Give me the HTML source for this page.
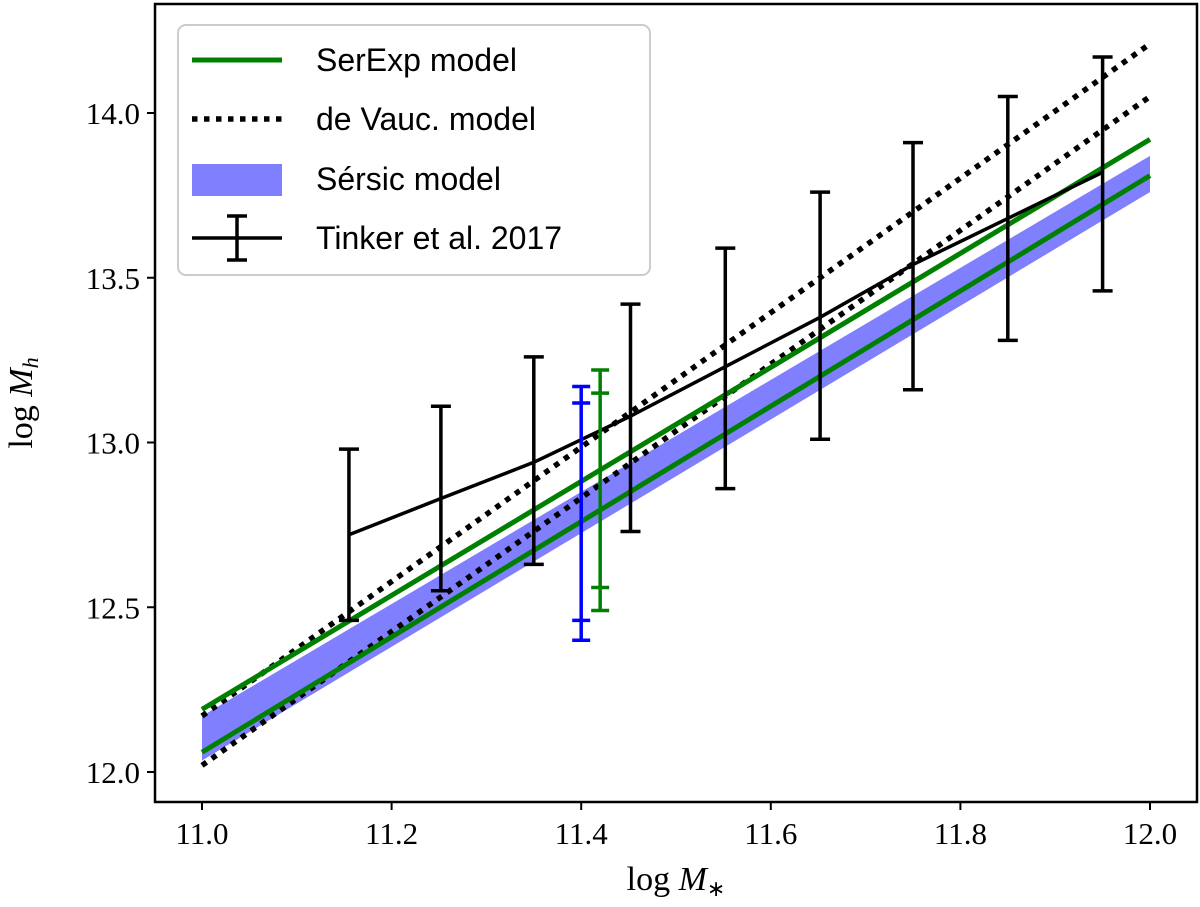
<!DOCTYPE html>
<html><head><meta charset="utf-8"><style>
body{margin:0;background:#fff}
svg{display:block}
.tk{font-family:"Liberation Serif",serif;font-size:31px;fill:#000}
.lg{font-family:"Liberation Sans",sans-serif;font-size:32px;fill:#000}
</style></head><body>
<svg id="chart" width="1200" height="907" viewBox="0 0 1200 907">
<g id="plot"></g>
</svg>
<script>
const xTicks=[11.0,11.2,11.4,11.6,11.8,12.0];
const yTicks=[12.0,12.5,13.0,13.5,14.0];
const serExpUpper=[12.19,13.92];
const serExpLower=[12.06,13.81];
const deVaucUpper=[12.17,14.21];
const deVaucLower=[12.02,14.05];
const sersicBandLow=[12.035,13.76];
const sersicBandHigh=[12.17,13.87];
const lineX=[11.0,12.0];
const tinkerX=[11.155,11.252,11.35,11.452,11.552,11.652,11.75,11.85,11.95];
const tinkerY=[12.72,12.83,12.94,13.08,13.23,13.38,13.54,13.68,13.82];
const tinkerLo=[12.46,12.55,12.63,12.73,12.86,13.01,13.16,13.31,13.46];
const tinkerHi=[12.98,13.11,13.26,13.42,13.59,13.76,13.91,14.05,14.17];
const blueBar={x:11.40,lo:12.40,hi:13.17,innerLo:12.46,innerHi:13.12};
const greenBar={x:11.42,lo:12.49,hi:13.22,innerLo:12.56,innerHi:13.15};

const X=v=>202+(v-11)*948;
const Y=v=>772-(v-12)*329.5;
const NS='http://www.w3.org/2000/svg';
const g=document.getElementById('plot');
function mk(t,a,txt){const e=document.createElementNS(NS,t);for(const k in a)e.setAttribute(k,a[k]);if(txt!==undefined)e.textContent=txt;g.appendChild(e);return e;}

let band=mk('polygon',{points:`${X(lineX[0])},${Y(sersicBandLow[0])} ${X(lineX[1])},${Y(sersicBandLow[1])} ${X(lineX[1])},${Y(sersicBandHigh[1])} ${X(lineX[0])},${Y(sersicBandHigh[0])}`,fill:'#8080ff'});



function line(arr,opts,name){const e=mk('line',Object.assign({x1:X(lineX[0]),y1:Y(arr[0]),x2:X(lineX[1]),y2:Y(arr[1])},opts));

}
line(deVaucUpper,{stroke:'#000','stroke-width':5.5,'stroke-dasharray':'5.5 6.5'},'de-vauc-upper-line');
line(deVaucLower,{stroke:'#000','stroke-width':5.5,'stroke-dasharray':'5.5 6.5'},'de-vauc-lower-line');
line(serExpUpper,{stroke:'#008000','stroke-width':5},'serexp-upper-line');
line(serExpLower,{stroke:'#008000','stroke-width':5},'serexp-lower-line');

let pl=mk('polyline',{points:tinkerX.map((x,i)=>X(x)+','+Y(tinkerY[i])).join(' '),fill:'none',stroke:'#000','stroke-width':3.5});


tinkerX.forEach((x,i)=>{const cx=X(x);
 const e=mk('path',{d:`M${cx},${Y(tinkerLo[i])}V${Y(tinkerHi[i])}M${cx-10},${Y(tinkerLo[i])}h20M${cx-10},${Y(tinkerHi[i])}h20`,stroke:'#000','stroke-width':3.5,fill:'none'});
 
 });
function bar(b,c,name){const cx=X(b.x);
 const e=mk('path',{d:`M${cx},${Y(b.lo)}V${Y(b.hi)}`+[b.lo,b.hi,b.innerLo,b.innerHi].map(v=>`M${cx-9},${Y(v)}h18`).join(''),stroke:c,'stroke-width':3.5,fill:'none'});
 
 }
bar(blueBar,'#0000ff','sersic-errorbar');
bar(greenBar,'#008000','serexp-errorbar');

let fr=mk('rect',{x:155,y:4,width:1042,height:798,fill:'none',stroke:'#000','stroke-width':2.5});


xTicks.forEach(v=>{mk('line',{x1:X(v),x2:X(v),y1:802,y2:810,stroke:'#000','stroke-width':2});
 const t=mk('text',{x:X(v),y:844,'text-anchor':'middle',class:'tk'},v.toFixed(1));
 
 });
yTicks.forEach(v=>{mk('line',{x1:147,x2:155,y1:Y(v),y2:Y(v),stroke:'#000','stroke-width':2});
 const t=mk('text',{x:140,y:Y(v)+11,'text-anchor':'end',class:'tk'},v.toFixed(1));
 
 });
</script>
<div style="position:absolute;left:0;top:0">
<svg width="1200" height="907">
<text x="676" y="890" text-anchor="middle" class="tk" style="font-size:34px"><tspan>log </tspan><tspan font-style="italic">M</tspan><tspan font-size="22" dy="6">∗</tspan></text>
<text transform="translate(32,403) rotate(-90)" text-anchor="middle" class="tk" style="font-size:34px"><tspan>log </tspan><tspan font-style="italic">M</tspan><tspan font-size="22" font-style="italic" dy="6">h</tspan></text>
<g>
<rect x="178" y="25" width="472" height="250" rx="8" fill="#fff" fill-opacity="0.85" stroke="#ccc" stroke-width="2"/>
<line x1="192" y1="60" x2="282" y2="60" stroke="#008000" stroke-width="5"/>
<text x="316" y="71" class="lg">SerExp model</text>
<line x1="192" y1="119" x2="282" y2="119" stroke="#000" stroke-width="5.5" stroke-dasharray="5.5 6.5"/>
<text x="316" y="130" class="lg">de Vauc. model</text>
<rect x="192" y="164" width="90" height="32" fill="#8080ff"/>
<text x="316" y="190" class="lg">Sérsic model</text>
<line x1="192" y1="238" x2="282" y2="238" stroke="#000" stroke-width="3.5"/>
<path d="M237,216V260M227,216h20M227,260h20" stroke="#000" stroke-width="3.5"/>
<text x="316" y="249" class="lg">Tinker et al. 2017</text>
</g>
</svg></div>
</body></html>
